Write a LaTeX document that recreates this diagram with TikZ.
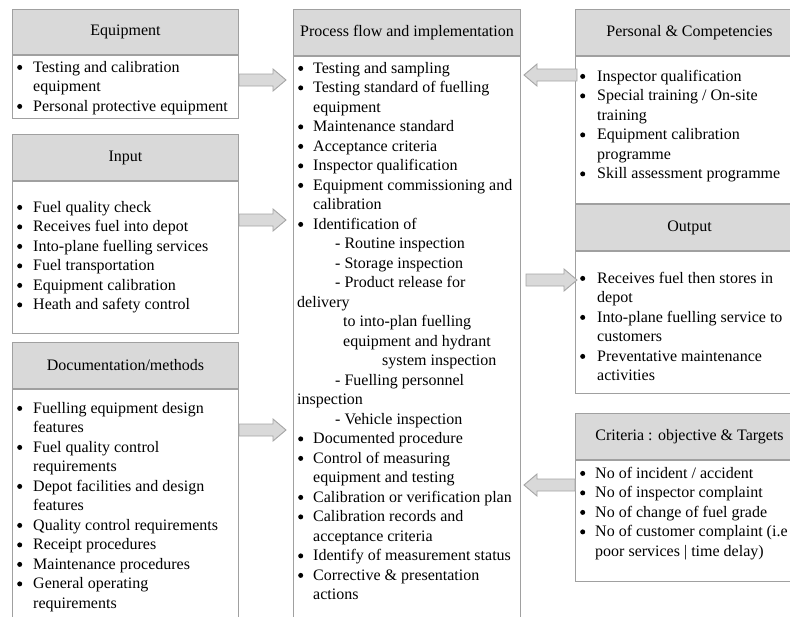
\documentclass[tikz,border=0pt]{standalone}
\usepackage{fontspec}
\setmainfont{Liberation Serif}
\usetikzlibrary{calc}
\definecolor{headfill}{RGB}{217,217,217}
\definecolor{boxline}{RGB}{160,160,160}
\definecolor{arrowfill}{RGB}{217,217,217}
\definecolor{arrowline}{RGB}{165,165,165}
\newlength\txtoff
\newcommand\bigbul{\tikz[baseline=0pt]\fill[black] (0pt,0pt) rectangle (0pt,0pt) (3pt,4.6pt) circle[radius=2.5pt];}
\newcommand\bi[1]{\makebox[\txtoff][l]{\hspace*{4.5pt}\bigbul}#1}
\newcommand\ci[1]{\hspace*{\txtoff}#1}
\newcommand\ti[2]{\hspace*{#1}#2}
\newcommand\listtext[2]{\parbox[t]{330pt}{\fontsize{16}{19.5}\selectfont\setlength\txtoff{#1}#2}}
\newcommand\RArrow[2]{\draw[blockarrow] let \p1=#1, \p2=#2 in
  (\x1,\y1+6pt) -- (\x2-13pt,\y1+6pt) -- (\x2-13pt,\y1+11pt) -- (\x2,\y1)
  -- (\x2-13pt,\y1-11pt) -- (\x2-13pt,\y1-6pt) -- (\x1,\y1-6pt) -- cycle;}
\newcommand\LArrow[2]{\draw[blockarrow] let \p1=#1, \p2=#2 in
  (\x1,\y1+6pt) -- (\x2+13pt,\y1+6pt) -- (\x2+13pt,\y1+11pt) -- (\x2,\y1)
  -- (\x2+13pt,\y1-11pt) -- (\x2+13pt,\y1-6pt) -- (\x1,\y1-6pt) -- cycle;}
\begin{document}
\begin{tikzpicture}[x=1pt,y=-1pt,
  head/.style={draw=boxline, fill=headfill, line width=1pt, inner sep=0pt,
    anchor=north west, font=\fontsize{16}{19.5}\selectfont},
  bodybox/.style={draw=boxline, fill=white, line width=1pt, inner sep=0pt, anchor=north west},
  listnode/.style={anchor=base west, inner sep=0pt},
  blockarrow/.style={draw=arrowline, fill=arrowfill, line width=0.9pt, line join=miter}]
\useasboundingbox (0,0) rectangle (790,616);
\clip (0,0) rectangle (790,616);
\fill[white] (0,0) rectangle (790,616);

% Equipment
\node[head, minimum width=226, minimum height=45] (eqhead) at (12,9) {Equipment};
\node[bodybox, minimum width=226, minimum height=63] (eqbody) at (eqhead.south west) {};
\node[listnode] (eqtext) at (12,72) {\listtext{21pt}{%
\bi{Testing and calibration}\\
\ci{equipment}\\
\bi{Personal protective equipment}}};

% Input
\node[head, minimum width=226, minimum height=46] (inhead) at (12,134) {Input};
\node[bodybox, minimum width=226, minimum height=152] (inbody) at (inhead.south west) {};
\node[listnode] (intext) at (12,212) {\listtext{21pt}{%
\bi{Fuel quality check}\\
\bi{Receives fuel into depot}\\
\bi{Into-plane fuelling services}\\
\bi{Fuel transportation}\\
\bi{Equipment calibration}\\
\bi{Heath and safety control}}};

% Documentation
\node[head, minimum width=226, minimum height=46] (dochead) at (12,342) {Documentation/methods};
\node[bodybox, minimum width=226, minimum height=260] (docbody) at (dochead.south west) {};
\node[listnode] (doctext) at (12,413) {\listtext{21pt}{%
\bi{Fuelling equipment design}\\
\ci{features}\\
\bi{Fuel quality control}\\
\ci{requirements}\\
\bi{Depot facilities and design}\\
\ci{features}\\
\bi{Quality control requirements}\\
\bi{Receipt procedures}\\
\bi{Maintenance procedures}\\
\bi{General operating}\\
\ci{requirements}}};

% Process
\node[head, minimum width=227, minimum height=46] (prochead) at (293,9) {Process flow and implementation};
\node[bodybox, minimum width=227, minimum height=600] (procbody) at (prochead.south west) {};
\node[listnode] (proctext) at (293,73) {\listtext{20pt}{%
\bi{Testing and sampling}\\
\bi{Testing standard of fuelling}\\
\ci{equipment}\\
\bi{Maintenance standard}\\
\bi{Acceptance criteria}\\
\bi{Inspector qualification}\\
\bi{Equipment commissioning and}\\
\ci{calibration}\\
\bi{Identification of}\\
\ti{42pt}{- Routine inspection}\\
\ti{42pt}{- Storage inspection}\\
\ti{42pt}{- Product release for}\\
\ti{4pt}{delivery}\\
\ti{50pt}{to into-plan fuelling}\\
\ti{50pt}{equipment and hydrant}\\
\ti{89pt}{system inspection}\\
\ti{42pt}{- Fuelling personnel}\\
\ti{4pt}{inspection}\\
\ti{42pt}{- Vehicle inspection}\\
\bi{Documented procedure}\\
\bi{Control of measuring}\\
\ci{equipment and testing}\\
\bi{Calibration or verification plan}\\
\bi{Calibration records and}\\
\ci{acceptance criteria}\\
\bi{Identify of measurement status}\\
\bi{Corrective \& presentation}\\
\ci{actions}}};

% Personal
\node[head, minimum width=228, minimum height=46] (pershead) at (575,9) {Personal \& Competencies};
\node[bodybox, minimum width=228, minimum height=147] (persbody) at (pershead.south west) {};
\node[listnode] (perstext) at (575,81) {\listtext{22pt}{%
\bi{Inspector qualification}\\
\bi{Special training / On-site}\\
\ci{training}\\
\bi{Equipment calibration}\\
\ci{programme}\\
\bi{Skill assessment programme}}};

% Output
\node[head, minimum width=228, minimum height=46] (outhead) at (575,204) {Output};
\node[bodybox, minimum width=228, minimum height=142] (outbody) at (outhead.south west) {};
\node[listnode] (outtext) at (575,283) {\listtext{22pt}{%
\bi{Receives fuel then stores in}\\
\ci{depot}\\
\bi{Into-plane fuelling service to}\\
\ci{customers}\\
\bi{Preventative maintenance}\\
\ci{activities}}};

% Criteria
\node[head, minimum width=228, minimum height=46] (crithead) at (575,413) {Criteria : objective \& Targets};
\node[bodybox, minimum width=228, minimum height=121] (critbody) at (crithead.south west) {};
\node[listnode] (crittext) at (575,478) {\listtext{20pt}{%
\bi{No of incident / accident}\\
\bi{No of inspector complaint}\\
\bi{No of change of fuel grade}\\
\bi{No of customer complaint (i.e}\\
\ci{poor services | time delay)}}};

% Arrows
\RArrow{(eqbody.east |- 0,80)}{($(procbody.west |- 0,80)+(-7,0)$)}
\RArrow{(inbody.east |- 0,220)}{($(procbody.west |- 0,220)+(-7,0)$)}
\RArrow{(docbody.east |- 0,430)}{($(procbody.west |- 0,430)+(-7,0)$)}
\LArrow{($(persbody.west |- 0,75)+(2,0)$)}{($(procbody.east |- 0,75)+(3,0)$)}
\RArrow{($(procbody.east |- 0,280)+(5,0)$)}{($(outbody.west |- 0,280)+(2,0)$)}
\LArrow{(critbody.west |- 0,485)}{($(procbody.east |- 0,485)+(3,0)$)}
\end{tikzpicture}
\end{document}
